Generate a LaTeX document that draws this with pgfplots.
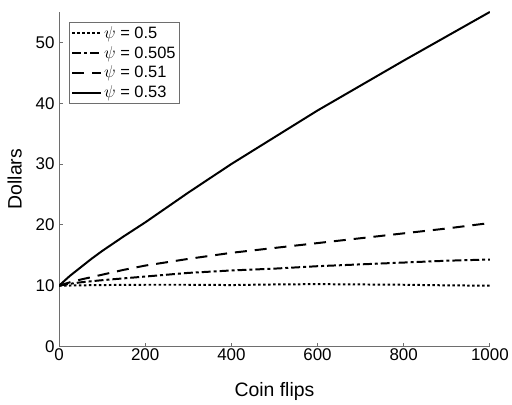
\documentclass[border=0pt]{standalone}
\usepackage{pgfplots}
\pgfplotsset{compat=1.18}
\usepackage{fontspec}
\setmainfont{Liberation Sans}
\definecolor{axgray}{RGB}{110,110,110}
\begin{document}
\begin{tikzpicture}
\begin{axis}[
  scale only axis,
  width=432.7bp, height=336bp,
  xmin=0, xmax=1000, ymin=0, ymax=55,
  axis x line*=bottom, axis y line*=left,
  axis line style={axgray, line width=0.8bp},
  tick style={axgray, line width=0.8bp},
  major tick length=4bp,
  tick align=inside,
  xtick={0,200,400,600,800,1000},
  ytick={0,10,20,30,40,50},
  /pgf/number format/assume math mode=true,
  /pgf/number format/1000 sep={},
  tick label style={font=\fontsize{17bp}{19bp}\selectfont},
  xticklabel style={yshift=1bp},
  yticklabel style={xshift=-1bp},
  xlabel={Coin flips}, ylabel={Dollars},
  label style={font=\fontsize{19.5bp}{21bp}\selectfont},
  xlabel style={yshift=-15bp},
  ylabel style={yshift=7bp},
  legend style={at={(0,1)}, anchor=north west, xshift=10bp, yshift=-10bp,
    draw=axgray, line width=0.8bp, font=\fontsize{16.5bp}{18bp}\selectfont,
    inner xsep=2bp, inner ysep=2bp, row sep=2.5bp, cells={anchor=west}},
  legend image code/.code={\draw[#1, line width=2bp] (0bp,0bp) -- (29bp,0bp);},
  every axis plot/.append style={line width=2bp, black},
]
\addplot[dash pattern=on 2.5bp off 2.5bp] coordinates {
(0,10) (100,10.1) (200,10.15) (300,10.15) (400,10.1) (500,10.2) (600,10.25) (700,10.2) (800,10.15) (900,10.05) (1000,10.0)};
\addlegendentry{$\psi$ = 0.5}
\addplot[dash pattern=on 9bp off 3bp on 3bp off 3bp] coordinates {
(0,10) (25,10.3) (50,10.55) (100,10.9) (150,11.2) (200,11.5) (300,12.1) (400,12.5) (500,12.8) (600,13.2) (700,13.5) (800,13.8) (900,14.1) (1000,14.3)};
\addlegendentry{$\psi$ = 0.505}
\addplot[dash pattern=on 12bp off 8bp] coordinates {
(0,10) (25,10.55) (50,11.0) (100,11.8) (150,12.6) (200,13.3) (300,14.4) (400,15.4) (500,16.2) (600,17.0) (700,17.8) (800,18.6) (900,19.4) (1000,20.3)};
\addlegendentry{$\psi$ = 0.51}
\addplot[solid] coordinates {
(0,10) (25,11.6) (50,13.0) (75,14.4) (100,15.7) (150,18.1) (200,20.4) (300,25.3) (400,30) (500,34.4) (600,38.8) (700,42.9) (800,47) (900,51) (1000,55)};
\addlegendentry{$\psi$ = 0.53}
\end{axis}
\path (current axis.south west) ++(-59.3bp,-50bp) rectangle ++(512bp,398bp);
\end{tikzpicture}
\end{document}
